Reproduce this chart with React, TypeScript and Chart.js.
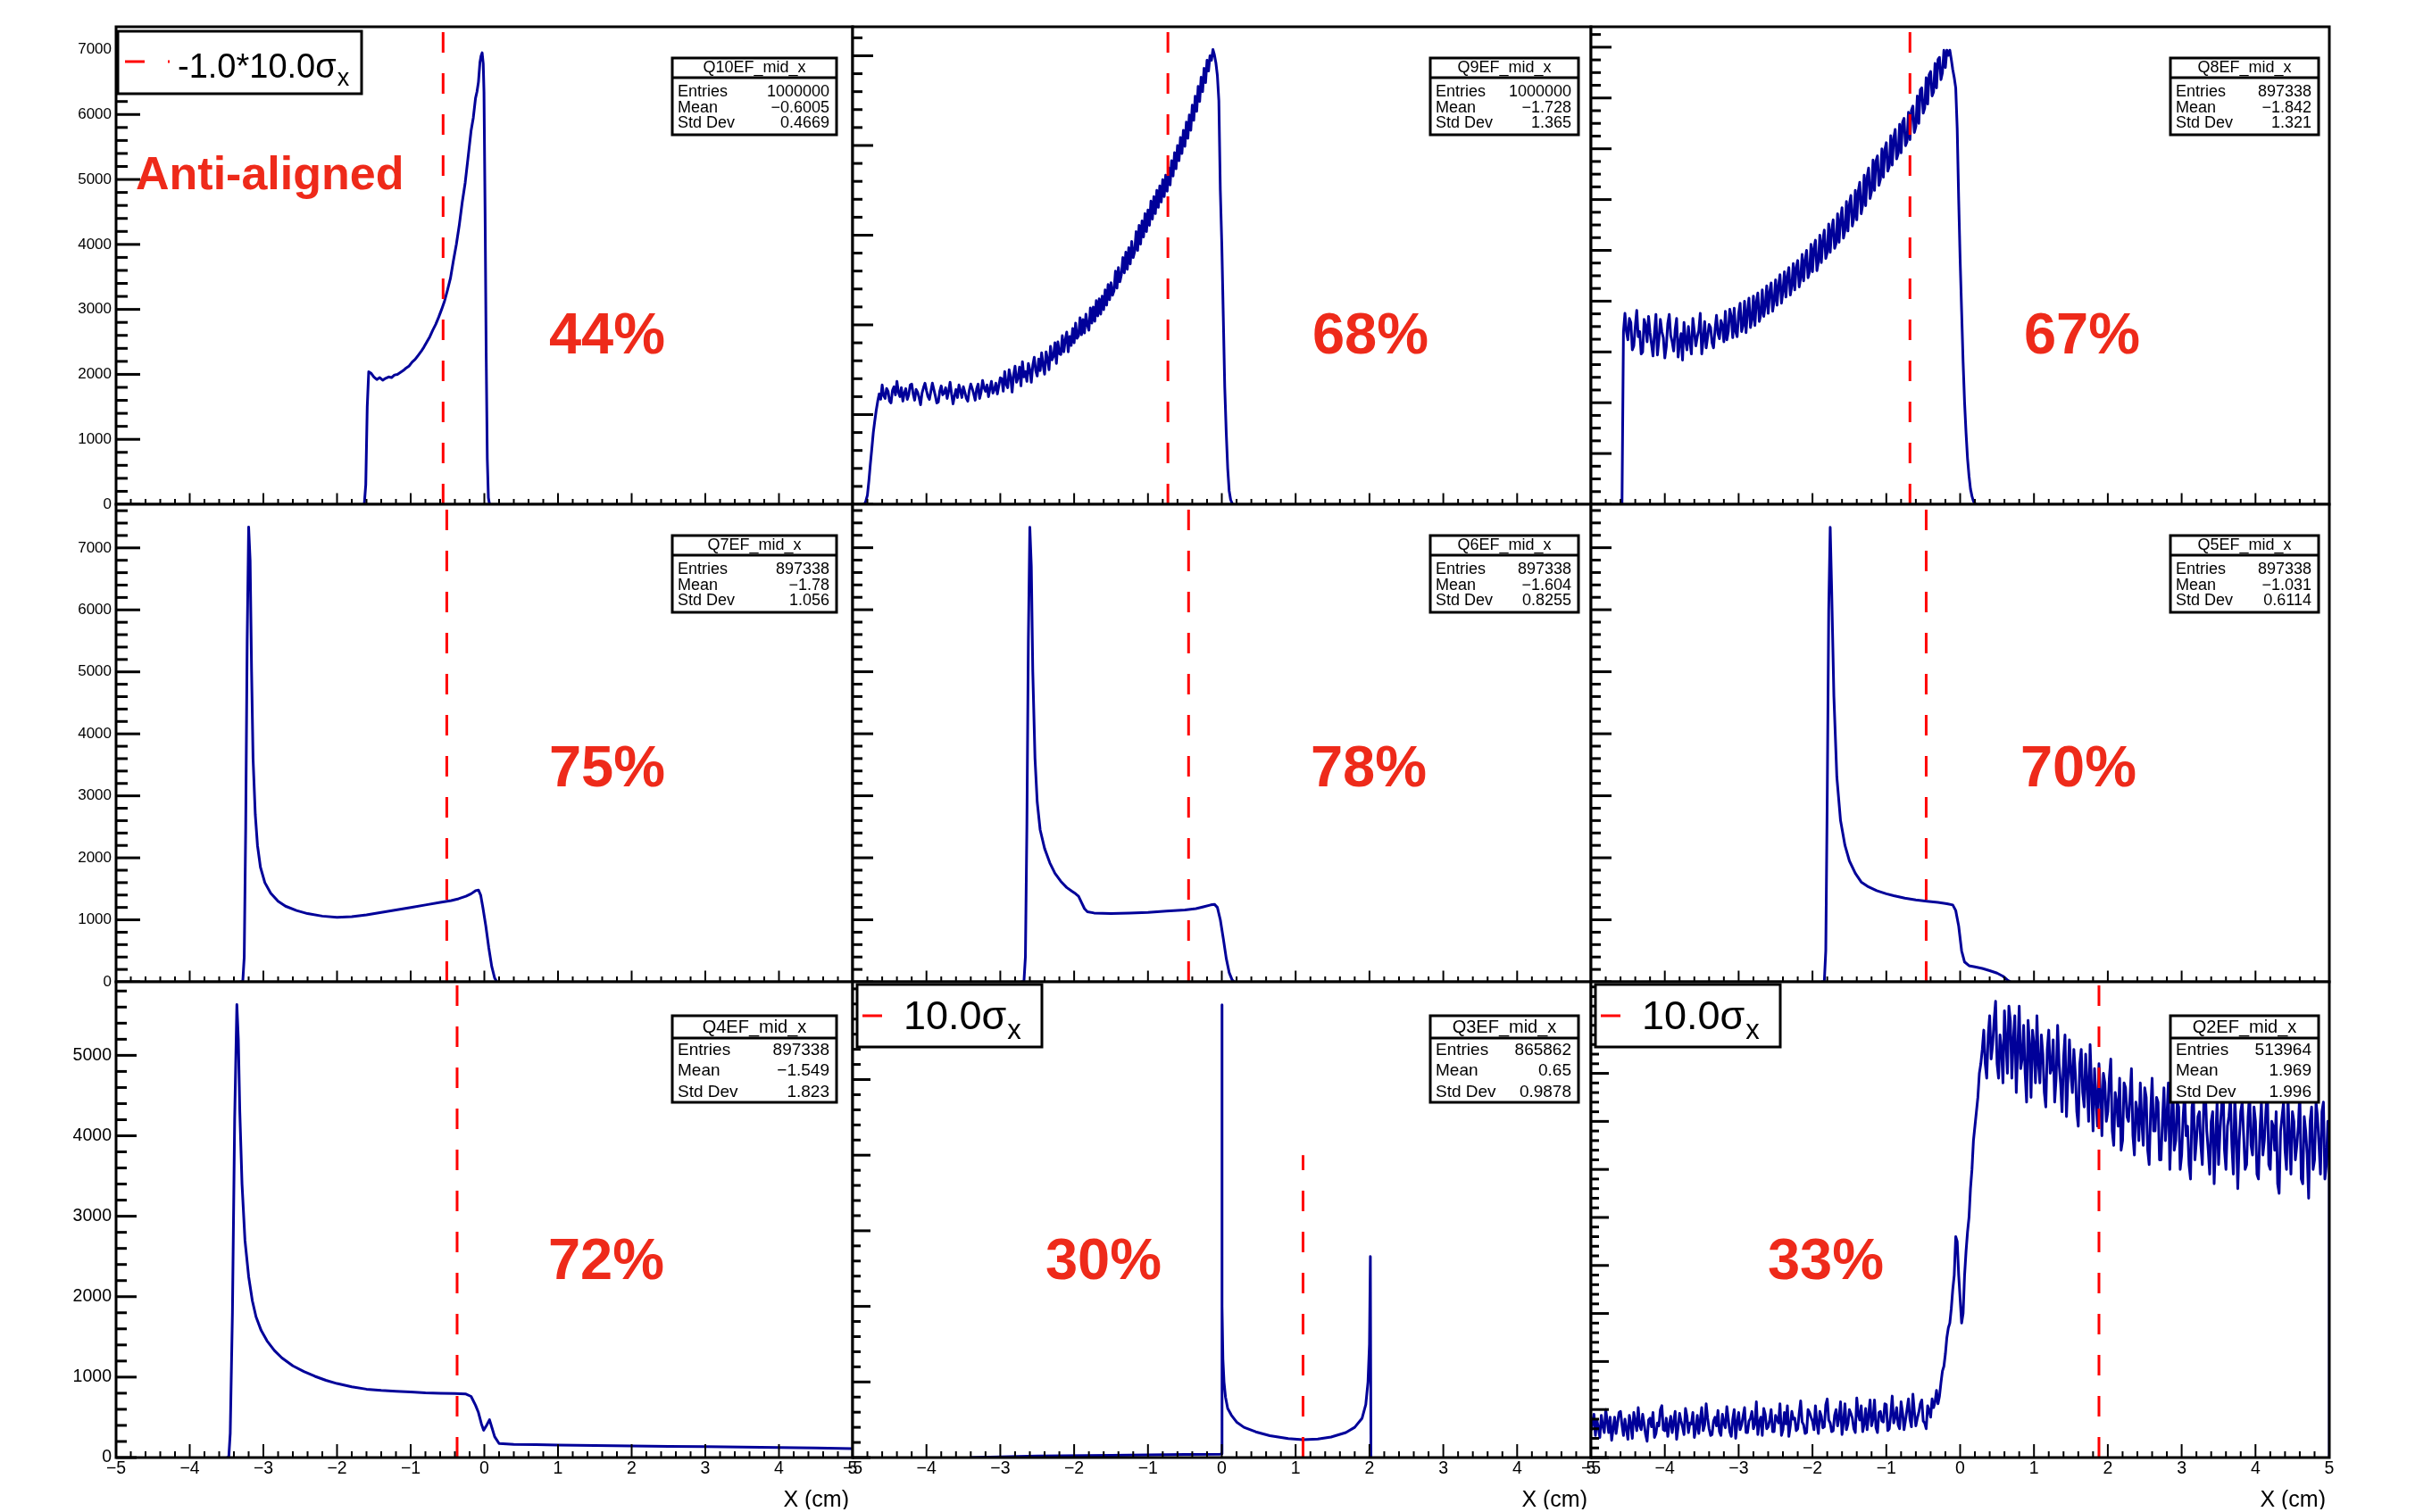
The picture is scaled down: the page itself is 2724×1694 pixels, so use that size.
import React, { useEffect, useRef } from "react";
import { Chart, registerables } from "chart.js";
Chart.register(...registerables);

const FONT = '"Liberation Sans", Arial, Helvetica, sans-serif';
const BLUE = "#000099";
const RED_LINE = "#ff0000";
const RED_TEXT = "#ee2a1a";

// ---------------- data ----------------
const panelNames = ["Q10EF_mid_x", "Q9EF_mid_x", "Q8EF_mid_x", "Q7EF_mid_x", "Q6EF_mid_x", "Q5EF_mid_x", "Q4EF_mid_x", "Q3EF_mid_x", "Q2EF_mid_x"];
const entries = ["1000000", "1000000", "897338", "897338", "897338", "897338", "897338", "865862", "513964"];
const means = ["\u22120.6005", "\u22121.728", "\u22121.842", "\u22121.78", "\u22121.604", "\u22121.031", "\u22121.549", "0.65", "1.969"];
const stdDevs = ["0.4669", "1.365", "1.321", "1.056", "0.8255", "0.6114", "1.823", "0.9878", "1.996"];
const percents = ["44%", "68%", "67%", "75%", "78%", "70%", "72%", "30%", "33%"];
const cutX = [-0.56, -0.73, -0.68, -0.51, -0.45, -0.46, -0.37, 1.1, 1.88];
const cutTop: (number | null)[] = [null, null, null, null, null, null, null, 4000, null];
const yMax = [7350, 5323, 4701, 7703, 7700, 7700, 5914, 6293, 4953];
const yMajor = [1000, 1000, 500, 1000, 1000, 1000, 1000, 1000, 500];
const yMinor = [200, 200, 125, 200, 200, 200, 200, 200, 100];
const xTickValues = [-5, -4, -3, -2, -1, 0, 1, 2, 3, 4, 5];
const legendTexts: (string | null)[] = ["-1.0*10.0\u03c3", null, null, null, null, null, null, "10.0\u03c3", "10.0\u03c3"];

const q10X = [-1.63, -1.61, -1.59, -1.57, -1.54, -1.5, -1.46, -1.42, -1.38, -1.34, -1.3, -1.26, -1.22, -1.18, -1.14, -1.1, -1.06, -1.02, -0.98, -0.94, -0.9, -0.86, -0.82, -0.78, -0.74, -0.7, -0.66, -0.62, -0.58, -0.54, -0.5, -0.46, -0.42, -0.38, -0.34, -0.3, -0.26, -0.22, -0.18, -0.15, -0.12, -0.1, -0.08, -0.06, -0.045, -0.03, -0.015, -0.005, 0.01, 0.025, 0.04, 0.055, 0.07];
const q10Y = [0, 300, 1500, 2040, 2020, 1960, 1920, 1950, 1910, 1940, 1960, 1950, 1990, 2000, 2030, 2060, 2100, 2130, 2190, 2230, 2290, 2350, 2420, 2500, 2580, 2680, 2770, 2880, 3000, 3130, 3300, 3480, 3750, 4000, 4300, 4650, 4950, 5350, 5750, 5950, 6250, 6350, 6500, 6800, 6900, 6950, 6780, 6350, 4500, 2300, 700, 100, 0];

const q9Start = -4.84;
const q9Step = 0.02;
const q9Y = [0, 40, 100, 260, 450, 620, 800, 930, 1050, 1150, 1230, 1170,
  1330, 1210, 1180, 1290, 1260, 1150, 1130, 1270, 1310, 1220, 1370, 1250, 1200, 1300, 1150, 1240, 1290, 1170, 1220, 1330,
  1340, 1230, 1160, 1280, 1250, 1190, 1110, 1240, 1300, 1350, 1270, 1200, 1170, 1260, 1350, 1280, 1210, 1130, 1140, 1260,
  1320, 1220, 1240, 1300, 1180, 1260, 1360, 1230, 1120, 1210, 1280, 1190, 1330, 1270, 1190, 1310, 1250, 1180, 1150, 1270,
  1340, 1290, 1230, 1160, 1290, 1340, 1180, 1250, 1380, 1300, 1260, 1330, 1200, 1290, 1370, 1240, 1280, 1350, 1230, 1320, 1410,
  1400, 1260, 1480, 1340, 1300, 1500, 1420, 1250, 1440, 1540, 1360, 1410, 1530, 1320, 1590, 1420, 1480, 1370, 1570, 1500,
  1360, 1550, 1640, 1490, 1430, 1620, 1490, 1690, 1550, 1450, 1700, 1620, 1500, 1760, 1610, 1650, 1800, 1570, 1810, 1680,
  1670, 1880, 1700, 1830, 1920, 1700, 1870, 1770, 1960, 1800, 2020, 1850, 1880, 2080, 1890, 2060, 1910, 2120, 2000, 1940,
  2190, 2020, 2200, 2040, 2270, 2100, 2290, 2120, 2320, 2170, 2390, 2220, 2450, 2280, 2470, 2330, 2380, 2600, 2410, 2640,
  2480, 2560, 2750, 2580, 2810, 2620, 2860, 2680, 2930, 2750, 2820, 3040, 2830, 3110, 2900, 3160, 2980, 3240, 3040, 3280,
  3110, 3380, 3180, 3430, 3240, 3500, 3310, 3550, 3370, 3620, 3430, 3670, 3490, 3750, 3560, 3830, 3660, 3920, 3740, 4000,
  3830, 4090, 3910, 4170, 3990, 4260, 4080, 4340, 4170, 4450, 4280, 4550, 4380, 4660, 4490, 4760, 4600, 4860, 4700, 4950,
  4830, 5000, 4950, 5070, 5010, 4920, 4780, 4500, 3500, 2900, 2100, 1300, 800, 400, 150, 50, 10, 0];

const q8Start = -4.58;
const q8Step = 0.02;
const q8Y = [0, 1700,
  1880, 1700, 1620, 1830, 1790, 1520, 1560, 1750, 1910, 1650, 1700, 1480, 1500, 1820, 1760, 1600, 1850, 1690, 1580, 1460,
  1690, 1870, 1470, 1620, 1820, 1700, 1640, 1440, 1550, 1780, 1870, 1660, 1600, 1510, 1720, 1830, 1450, 1590, 1680, 1420,
  1790, 1620, 1520, 1750, 1600, 1480, 1830, 1700, 1560, 1650, 1710, 1880, 1480, 1620, 1800, 1540, 1650, 1770, 1740, 1590,
  1540, 1720, 1860, 1680, 1630, 1810, 1760, 1600,
  1900, 1620, 1700, 1920, 1850, 1640, 1930, 1700, 1650, 1880, 1980, 1700, 1760, 2000, 1690, 1900, 2030, 1740, 1820, 2050,
  1760, 1990, 2080, 1800, 1870, 2110, 1850, 1960, 2150, 1880, 2090, 2180, 1900, 2000, 2210, 1960, 2150, 2260, 1980, 2100,
  2290, 2040, 2240, 2330, 2060, 2150, 2370, 2110, 2330, 2400, 2140, 2230, 2460, 2200, 2400, 2500, 2230, 2290, 2560, 2290,
  2520, 2600, 2300, 2390, 2650, 2380, 2590, 2700, 2420, 2480, 2760, 2480, 2700, 2800, 2520, 2570, 2860, 2580, 2800, 2920,
  2620, 2700, 2980, 2690, 2950, 3040, 2740, 2820, 3090, 2800, 3080, 3170, 2860, 2950, 3240, 2940, 3220, 3310, 3010, 3080,
  3390, 3090, 3380, 3430, 3140, 3200, 3500, 3220, 3490, 3560, 3280, 3330, 3630, 3340, 3600, 3690, 3400, 3450, 3740, 3460,
  3760, 3800, 3530, 3570, 3860, 3590, 3880, 3920, 3660, 3720, 4020, 3750, 4080, 4100, 3850, 3900, 4200, 3940, 4230, 4260,
  4020, 4060, 4340, 4100, 4380, 4400, 4180, 4250, 4470, 4300, 4470, 4420, 4470,
  4380, 4280, 4200, 4100, 3700, 3000, 2400, 1900, 1400, 1000, 700, 450, 280, 150, 80, 30, 10, 0];

const q7X = [-3.32, -3.28, -3.26, -3.24, -3.22, -3.2, -3.18, -3.16, -3.14, -3.11, -3.08, -3.04, -2.98, -2.9, -2.8, -2.7, -2.55, -2.4, -2.2, -2.0, -1.8, -1.6, -1.4, -1.2, -1.0, -0.8, -0.6, -0.45, -0.35, -0.25, -0.18, -0.12, -0.08, -0.05, -0.02, 0.02, 0.06, 0.1, 0.14, 0.17];
const q7Y = [0, 0, 400, 2500, 5500, 7336, 6800, 5000, 3600, 2700, 2200, 1850, 1600, 1430, 1300, 1220, 1150, 1100, 1060, 1040, 1050, 1080, 1120, 1160, 1200, 1240, 1280, 1310, 1340, 1380, 1420, 1470, 1480, 1400, 1200, 900, 550, 250, 60, 0];

const q6X = [-2.72, -2.68, -2.66, -2.64, -2.62, -2.6, -2.58, -2.56, -2.53, -2.5, -2.46, -2.4, -2.33, -2.26, -2.18, -2.1, -2.03, -1.98, -1.94, -1.9, -1.86, -1.82, -1.73, -1.5, -1.25, -1.0, -0.75, -0.5, -0.35, -0.25, -0.15, -0.1, -0.06, -0.02, 0.02, 0.06, 0.1, 0.14, 0.17];
const q6Y = [0, 0, 400, 2500, 5500, 7330, 6700, 5000, 3600, 2900, 2450, 2150, 1920, 1750, 1620, 1520, 1460, 1420, 1380, 1280, 1180, 1130, 1110, 1100, 1110, 1120, 1140, 1160, 1180, 1210, 1240, 1250, 1200, 1000, 700, 380, 150, 30, 0];

const q5X = [-1.88, -1.84, -1.82, -1.8, -1.78, -1.76, -1.74, -1.71, -1.67, -1.62, -1.56, -1.5, -1.42, -1.34, -1.24, -1.13, -1.0, -0.9, -0.75, -0.6, -0.45, -0.3, -0.18, -0.1, -0.06, -0.02, 0.02, 0.06, 0.12, 0.2, 0.3, 0.4, 0.5, 0.58, 0.64, 0.68];
const q5Y = [0, 0, 500, 3000, 6000, 7330, 6300, 4600, 3300, 2600, 2200, 1950, 1750, 1610, 1530, 1470, 1420, 1390, 1350, 1320, 1300, 1280, 1260, 1240, 1150, 900, 500, 320, 260, 240, 215, 180, 140, 90, 30, 0];

const q4X = [-3.5, -3.47, -3.45, -3.42, -3.39, -3.36, -3.34, -3.32, -3.29, -3.25, -3.2, -3.15, -3.1, -3.03, -2.95, -2.85, -2.75, -2.6, -2.45, -2.3, -2.15, -2.0, -1.8, -1.6, -1.4, -1.2, -1.0, -0.8, -0.6, -0.4, -0.25, -0.18, -0.12, -0.08, -0.04, -0.01, 0.03, 0.07, 0.1, 0.14, 0.2, 0.4, 0.7, 1.0, 1.5, 2.0, 2.5, 3.0, 3.5, 4.0, 4.5, 5.0];
const q4Y = [0, 0, 300, 1800, 4200, 5630, 5200, 4300, 3400, 2700, 2250, 1950, 1750, 1580, 1450, 1330, 1240, 1140, 1070, 1010, 960, 920, 880, 850, 835, 825, 815, 805, 800, 795, 790, 760, 650, 560, 420, 340, 400, 470, 380, 260, 175, 165, 160, 155, 150, 145, 140, 135, 130, 125, 118, 110];

const q3X = [-3.4, -2.5, -1.5, -0.5, -0.02, -0.005, 0.0, 0.006, 0.015, 0.03, 0.05, 0.08, 0.13, 0.2, 0.3, 0.46, 0.65, 0.9, 1.1, 1.3, 1.48, 1.68, 1.8, 1.9, 1.95, 1.98, 2.0, 2.012, 2.02, 2.03];
const q3Y = [0, 20, 30, 40, 45, 50, 5990, 2000, 1300, 1000, 800, 650, 560, 470, 400, 340, 290, 250, 236, 245, 272, 330, 400, 520, 700, 1000, 1500, 2660, 0, 0];

const q2Start = -5;
const q2Step = 0.02;
const q2Y = [
  280, 360, 450, 230, 390, 310, 210, 440, 330, 260, 500, 380, 260, 420, 180, 300, 420, 250, 360, 470,
  480, 340, 230, 400, 300, 190, 440, 350, 200, 470, 380, 280, 520, 330, 290, 450, 350, 240, 170, 390,
  410, 320, 470, 210, 250, 360, 330, 500, 540, 290, 280, 410, 220, 340, 430, 260, 370, 480, 190, 310,
  460, 380, 320, 240, 510, 430, 260, 360, 350, 470, 210, 300, 440, 250, 390, 520, 280, 340, 560, 410,
  300, 230, 240, 380, 420, 330, 490, 270, 230, 450, 360, 310, 530, 400, 270, 220, 400, 500, 200, 370,
  470, 290, 340, 430, 520, 260, 260, 380, 410, 480, 300, 350, 580, 240, 370, 420, 230, 510, 450, 300,
  320, 390, 500, 270, 270, 440, 400, 360, 560, 230, 290, 470, 350, 540, 220, 330, 480, 400, 410, 280,
  300, 460, 590, 370, 340, 250, 260, 500, 470, 420, 380, 290, 540, 360, 250, 480, 430, 310, 320, 550,
  610, 390, 360, 270, 280, 440, 500, 330, 420, 580, 240, 370, 560, 290, 350, 500, 460, 410, 300, 260,
  620, 450, 390, 540, 270, 350, 510, 290, 440, 600, 330, 400, 600, 310, 260, 470, 480, 380, 370, 560,
  550, 280, 300, 450, 640, 360, 420, 520, 340, 300, 580, 470, 290, 390, 500, 610, 400, 320, 660, 480,
  330, 410, 470, 560, 600, 380, 360, 300, 540, 490, 420, 610,
  520, 580, 700, 560, 640, 780, 900, 950, 1080, 1250, 1350, 1400, 1550, 1750, 1900, 2300, 2250, 1900, 1650, 1400,
  1500, 1900, 2150, 2350, 2500, 2800, 3000, 3300, 3450, 3600, 3750, 4000, 4100, 4250, 4450, 4100, 3950, 4400,
  4600, 4150, 4300, 4550, 4750, 4100, 3950, 4400, 4250, 3900, 4650, 4350, 4000, 4700, 4550, 3950, 4350, 4600, 3800, 4250,
  4700, 4050, 4150, 4500, 4000, 3700, 4550, 4300, 3750, 4450, 4300, 3900, 4600, 4100, 3900, 4400, 4200, 3800, 3650, 4250,
  4450, 4000, 4050, 4350, 3700, 3950, 4500, 4100, 3900, 3600, 4150, 4400, 3550, 3950, 4350, 4000, 3800, 4250, 4000, 3600,
  3450, 4100, 4250, 3800, 3650, 4200, 3900, 3500, 4300, 3850, 3400, 4050, 3750, 3450, 4100, 3800, 3350, 4000, 3900, 3500,
  3600, 3950, 4150, 3400, 3250, 3800, 3700, 3450, 3950, 3200, 3300, 3900, 3850, 3550, 3500, 3750, 4050, 3350, 3150, 3700,
  3600, 3300, 3900, 3500, 3250, 3850, 3750, 3200, 3050, 3600, 3950, 3400, 3400, 3750, 3700, 3100, 3100, 3500, 3850, 3300,
  3550, 3900, 3000, 3450, 3900, 3200, 3300, 3700, 3650, 3000, 3150, 3550, 3800, 3350, 3450, 3050, 2900, 3650, 3750, 3100,
  3300, 3550, 3600, 3250, 3050, 3700, 3850, 3400, 3200, 2950, 3500, 3600, 2850, 3300, 3700, 3050, 3400, 3650, 3900, 3200,
  3000, 3450, 3550, 3750, 3250, 2950, 3750, 3400, 2800, 3300, 3600, 3700, 3350, 3000, 3050, 3550, 3800, 3250, 3150, 3650,
  3500, 2950, 2900, 3400, 3700, 3150, 3300, 3600, 3850, 3050, 3000, 3500, 3450, 3200, 3600, 2850, 2750, 3400, 3550, 3700,
  3200, 3000, 3750, 3350, 2950, 3600, 3500, 3100, 3250, 3450, 3800, 2900, 2850, 3550, 3400, 3150, 2700, 3500, 3650, 3000,
  3100, 3700, 3550, 3250, 2950, 3600, 3700, 2900, 3050, 3500, 3400];
const q2ClosingEdge = 0;

// ---------------- layout (pixels) ----------------
const FRAME_L = [130, 955, 1782];
const FRAME_R = [955, 1782, 2609];
const FRAME_T = [30, 565, 1100];
const FRAME_B = [565, 1100, 1633];
const pctPos = [[550, 366], [580, 366], [550, 366], [550, 316], [578, 316], [546, 316], [549, 333], [281, 333], [263, 333]];

type Pt = { x: number; y: number };
function pairs(xs: number[], ys: number[]): Pt[] {
  return ys.map((y, i) => ({ x: xs[i], y }));
}
function binned(start: number, step: number, ys: number[]): Pt[] {
  return ys.map((y, i) => ({ x: Math.round((start + i * step) * 10000) / 10000, y }));
}

const series: Pt[][] = [
  pairs(q10X, q10Y),
  binned(q9Start, q9Step, q9Y),
  binned(q8Start, q8Step, q8Y),
  pairs(q7X, q7Y),
  pairs(q6X, q6Y),
  pairs(q5X, q5Y),
  pairs(q4X, q4Y),
  pairs(q3X, q3Y),
  [...binned(q2Start, q2Step, q2Y), { x: 5, y: q2ClosingEdge }],
];

function fmtX(v: number) {
  const r = Math.round(v);
  return r < 0 ? "\u2212" + Math.abs(r) : String(r);
}

function Panel({ i }: { i: number }) {
  const ref = useRef<HTMLCanvasElement>(null);
  const row = Math.floor(i / 3);
  const col = i % 3;
  const fx = FRAME_L[col], fr = FRAME_R[col], fy = FRAME_T[row], fb = FRAME_B[row];
  const ML = col === 0 ? 130 : 40;
  const MR = 40;
  const MT = row === 0 ? 30 : 24;
  const MB = row === 2 ? 58 : 40;
  const W = ML + (fr - fx) + MR;
  const H = MT + (fb - fy) + MB;

  useEffect(() => {
    const canvas = ref.current!;
    const ymax = yMax[i];
    const major = yMajor[i];
    const minor = yMinor[i];
    const yTickValues: number[] = [];
    for (let k = 0; k * major <= ymax; k++) yTickValues.push(k * major);
    const cutData = [
      { x: cutX[i], y: 0 },
      { x: cutX[i], y: cutTop[i] ?? ymax },
    ];

    const plugin = {
      id: "rootPad" + i,
      beforeDraw(chart: any) {
        const { ctx, chartArea: a } = chart;
        ctx.save();
        ctx.fillStyle = "#ffffff";
        ctx.fillRect(a.left, a.top, a.right - a.left, a.bottom - a.top);
        ctx.restore();
      },
      afterDraw(chart: any) {
        const { ctx, chartArea: a } = chart;
        const xs = chart.scales.x;
        const ys = chart.scales.y;
        ctx.save();
        ctx.strokeStyle = "#000";
        ctx.lineCap = "butt";
        const line = (x1: number, y1: number, x2: number, y2: number) => {
          ctx.beginPath();
          ctx.moveTo(x1, y1);
          ctx.lineTo(x2, y2);
          ctx.stroke();
        };
        // x ticks
        const XT = row === 2 ? 15 : 12.5;
        const xt = row === 2 ? 7 : 6;
        ctx.lineWidth = 2;
        for (let k = -25; k <= 25; k++) {
          const px = xs.getPixelForValue(k / 5);
          line(px, a.bottom, px, a.bottom - (k % 5 === 0 ? XT : xt));
        }
        // y ticks
        let YT = 23, yt = 11;
        if (col === 0) { YT = row === 2 ? 23 : 27; yt = row === 2 ? 12 : 13; }
        else if (row === 2) { YT = 20; yt = 9; }
        ctx.lineWidth = 3;
        const n = Math.floor(ymax / minor + 1e-6);
        for (let k = 0; k <= n; k++) {
          const v = k * minor;
          const py = ys.getPixelForValue(v);
          const isMajor = Math.abs(v / major - Math.round(v / major)) < 1e-6;
          line(a.left, py, a.left + (isMajor ? YT : yt), py);
        }
        // frame
        ctx.lineWidth = 3;
        ctx.strokeRect(a.left, a.top, a.right - a.left, a.bottom - a.top);

        // stats box
        const bw = col === 0 ? 184 : 166;
        const bx = a.right - (col === 0 ? 202 : col === 1 ? 180 : 178);
        const by = a.top + (row === 2 ? 38 : 35);
        const bh = row === 2 ? 97 : 86;
        const tf = row === 2 ? 20 : 18;
        const tb = row === 2 ? 19 : 16;
        const sep = row === 2 ? 25 : 22;
        const rf = row === 2 ? 19 : 18;
        const rb = row === 2 ? [44, 67, 91] : [43, 61, 78];
        ctx.fillStyle = "#fff";
        ctx.fillRect(bx, by, bw, bh);
        ctx.lineWidth = 3;
        ctx.strokeRect(bx, by, bw, bh);
        line(bx, by + sep, bx + bw, by + sep);
        ctx.fillStyle = "#000";
        ctx.textBaseline = "alphabetic";
        ctx.font = `${tf}px ${FONT}`;
        ctx.textAlign = "center";
        ctx.fillText(panelNames[i], bx + bw / 2, by + tb);
        ctx.font = `${rf}px ${FONT}`;
        const labs = ["Entries", "Mean", "Std Dev"];
        const vals = [entries[i], means[i], stdDevs[i]];
        for (let r = 0; r < 3; r++) {
          ctx.textAlign = "left";
          ctx.fillText(labs[r], bx + 6, by + rb[r]);
          ctx.textAlign = "right";
          ctx.fillText(vals[r], bx + bw - 8, by + rb[r]);
        }

        // legend
        const lt = legendTexts[i];
        if (lt) {
          const first = i === 0;
          const lx = a.left + (first ? 2 : 5);
          const ly = a.top + (first ? 5 : 3);
          const lw = first ? 273 : 207;
          const lh = 70;
          ctx.fillStyle = "#fff";
          ctx.fillRect(lx, ly, lw, lh);
          ctx.lineWidth = 3;
          ctx.strokeStyle = "#000";
          ctx.strokeRect(lx, ly, lw, lh);
          ctx.strokeStyle = RED_LINE;
          ctx.lineWidth = 3;
          ctx.setLineDash([22, 26]);
          const sy = a.top + (first ? 39 : 38);
          if (first) line(a.left + 10, sy, a.left + 60, sy);
          else line(a.left + 11, sy, a.left + 34, sy);
          ctx.setLineDash([]);
          const fs = first ? 38 : 45;
          const tx = a.left + (first ? 69 : 57);
          const tyb = a.top + (first ? 57 : 53);
          ctx.fillStyle = "#000";
          ctx.textAlign = "left";
          ctx.font = `${fs}px ${FONT}`;
          ctx.fillText(lt, tx, tyb);
          const wTxt = ctx.measureText(lt).width;
          ctx.font = `${first ? 27 : 31}px ${FONT}`;
          ctx.fillText("x", tx + wTxt + 1, a.top + (first ? 66 : 64));
        }

        // percentage
        ctx.fillStyle = RED_TEXT;
        ctx.font = `bold 65px ${FONT}`;
        ctx.textAlign = "center";
        ctx.fillText(percents[i], a.left + pctPos[i][0], a.top + pctPos[i][1]);
        if (i === 0) {
          ctx.font = `bold 52px ${FONT}`;
          ctx.textAlign = "left";
          ctx.fillText("Anti-aligned", a.left + 22, a.top + 182);
        }
        if (row === 2) {
          ctx.fillStyle = "#000";
          ctx.font = `25px ${FONT}`;
          ctx.textAlign = "right";
          ctx.fillText("X (cm)", a.right - 4, a.bottom + 55);
        }
        ctx.restore();
      },
    };

    const chart = new Chart(canvas, {
      type: "line",
      data: {
        datasets: [
          {
            data: series[i],
            borderColor: BLUE,
            borderWidth: 3,
            borderJoinStyle: "round",
            pointRadius: 0,
            tension: 0,
            fill: false,
            order: 2,
          } as any,
          {
            data: cutData,
            borderColor: RED_LINE,
            borderWidth: 3,
            borderDash: [23, 23],
            pointRadius: 0,
            tension: 0,
            fill: false,
            order: 1,
          } as any,
        ],
      },
      options: {
        animation: false,
        responsive: false,
        devicePixelRatio: 1,
        events: [],
        layout: { padding: { left: 0, top: MT, right: MR, bottom: 0 } },
        plugins: { legend: { display: false }, tooltip: { enabled: false }, title: { display: false } },
        scales: {
          x: {
            type: "linear",
            position: "bottom",
            min: -5,
            max: 5,
            afterFit: (s: any) => { s.height = MB; },
            afterBuildTicks: (s: any) => { s.ticks = xTickValues.map((v) => ({ value: v })); },
            grid: { display: false, drawTicks: false },
            border: { display: false },
            ticks: {
              display: row === 2,
              autoSkip: false,
              maxRotation: 0,
              minRotation: 0,
              padding: 1,
              color: "#000",
              font: { family: FONT, size: 19.5 },
              callback: (v: any) => fmtX(Number(v)),
            },
          },
          y: {
            type: "linear",
            position: "left",
            min: 0,
            max: ymax,
            afterFit: (s: any) => { s.width = ML; },
            afterBuildTicks: (s: any) => { s.ticks = yTickValues.map((v) => ({ value: v })); },
            grid: { display: false, drawTicks: false },
            border: { display: false },
            ticks: {
              display: col === 0,
              autoSkip: false,
              padding: 5,
              color: "#000",
              font: { family: FONT, size: row === 2 ? 19.5 : 17 },
              callback: (v: any) => String(Math.round(Number(v))),
            },
          },
        },
      } as any,
      plugins: [plugin],
    });
    return () => chart.destroy();
  }, []);

  return (
    <canvas
      ref={ref}
      width={W}
      height={H}
      style={{ position: "absolute", left: fx - ML, top: fy - MT, width: W, height: H }}
    />
  );
}

export default function App() {
  return (
    <div
      style={{
        position: "fixed",
        left: 0,
        top: 0,
        width: 2724,
        height: 1694,
        background: "#ffffff",
        overflow: "hidden",
      }}
    >
      {[0, 1, 2, 3, 4, 5, 6, 7, 8].map((i) => (
        <Panel key={i} i={i} />
      ))}
    </div>
  );
}
